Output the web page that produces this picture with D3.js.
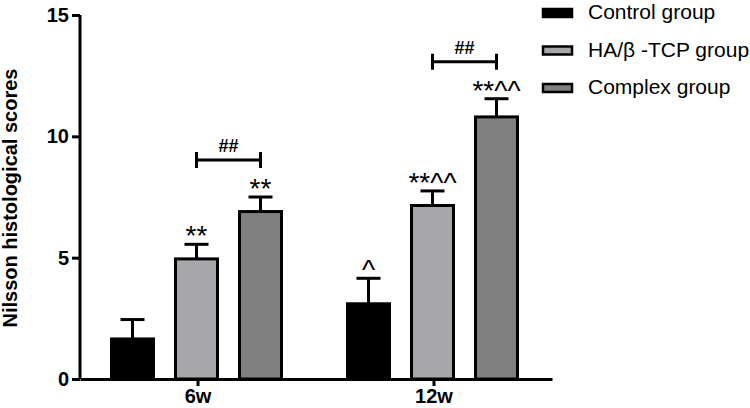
<!DOCTYPE html>
<html>
<head>
<meta charset="utf-8">
<script src="https://cdn.jsdelivr.net/npm/d3@7/dist/d3.min.js"></script>
<style>
  body { margin: 0; background: #fff; }
  text { font-family: "Liberation Sans", Arial, sans-serif; }
</style>
</head>
<body>
<script>
let groups = ["6w", "12w"];
let series = ["Control group", "HA/β -TCP group", "Complex group"];
let colors = ["#000000", "#a7a7ab", "#808080"];
let means = [[1.65, 4.95, 6.9], [3.1, 7.15, 10.8]];
let errs = [[0.8, 0.6, 0.6], [1.05, 0.6, 0.75]];
let marks = [["", "**", "**"], ["^", "**^^", "**^^"]];
let yTicks = [0, 5, 10, 15];

let w = 750, h = 408;

let svg = d3.select("body").append("svg")
  .attr("width", w)
  .attr("height", h);

let yScale = d3.scaleLinear().domain([0, 15]).range([379, 15]);
let xScale = d3.scaleBand().domain(groups).range([80, 552]);
let xSub = d3.scaleBand().domain(series).range([-85, 85]).paddingInner(0.344);

let rows = [];
groups.forEach((g, gi) => {
  series.forEach((s, si) => {
    rows.push({ g: g, s: s, si: si, v: means[gi][si], e: errs[gi][si], m: marks[gi][si] });
  });
});

let cx = d => xScale(d.g) + xScale.bandwidth() / 2 - 1.5 + xSub(d.s) + xSub.bandwidth() / 2;

// error bars (behind bars)
let eb = svg.append("g").attr("stroke", "#000").attr("stroke-width", 3);
eb.selectAll("line.v").data(rows).enter().append("line")
  .attr("x1", cx).attr("x2", cx)
  .attr("y1", d => yScale(d.v))
  .attr("y2", d => yScale(d.v + d.e));
eb.selectAll("line.c").data(rows).enter().append("line")
  .attr("x1", d => cx(d) - 12).attr("x2", d => cx(d) + 12)
  .attr("y1", d => yScale(d.v + d.e))
  .attr("y2", d => yScale(d.v + d.e));

svg.selectAll("rect.bar").data(rows).enter().append("rect")
  .attr("class", "bar")
  .attr("x", d => cx(d) - xSub.bandwidth() / 2)
  .attr("y", d => yScale(d.v))
  .attr("width", xSub.bandwidth())
  .attr("height", d => yScale(0) - yScale(d.v))
  .attr("fill", d => colors[d.si])
  .attr("stroke", "#000")
  .attr("stroke-width", 3);

svg.selectAll("text.mark").data(rows.filter(d => d.m)).enter().append("text")
  .attr("x", cx)
  .attr("y", d => yScale(d.v + d.e) + 1)
  .attr("text-anchor", "middle")
  .attr("font-size", 28)
  .text(d => d.m);

// ## brackets between HA and Complex
let br = svg.selectAll("g.br").data(groups).enter().append("g")
  .attr("stroke", "#000").attr("stroke-width", 3);
let bx1 = g => cx({ g: g, s: series[1] });
let bx2 = g => cx({ g: g, s: series[2] });
let by = (g, i) => yScale(means[i][2] + errs[i][2]) - 37;
br.append("line")
  .attr("x1", bx1).attr("x2", bx2)
  .attr("y1", by).attr("y2", by);
br.append("line")
  .attr("x1", bx1).attr("x2", bx1)
  .attr("y1", (g, i) => by(g, i) - 8).attr("y2", (g, i) => by(g, i) + 8);
br.append("line")
  .attr("x1", bx2).attr("x2", bx2)
  .attr("y1", (g, i) => by(g, i) - 8).attr("y2", (g, i) => by(g, i) + 8);
svg.selectAll("text.hash").data(groups).enter().append("text")
  .attr("x", g => (bx1(g) + bx2(g)) / 2)
  .attr("y", (g, i) => by(g, i) - 8)
  .attr("text-anchor", "middle")
  .attr("font-size", 18)
  .attr("font-weight", "bold")
  .text("##");

// axes
let yAxis = d3.axisLeft(yScale).tickValues(yTicks).tickSize(8).tickPadding(3).tickSizeOuter(0);
let yg = svg.append("g").attr("transform", "translate(80,0)").call(yAxis);
yg.selectAll("text").attr("font-size", 20).attr("font-weight", "bold")
  .attr("font-family", "Liberation Sans, Arial, sans-serif").attr("fill", "#000");
yg.selectAll("line, path").attr("stroke", "#000").attr("stroke-width", 3);
yg.select("path").attr("d", "M0," + yScale(0) + "V" + yScale(15));

let xAxis = d3.axisBottom(xScale).tickSize(7).tickPadding(3).tickSizeOuter(0);
let xg = svg.append("g").attr("transform", "translate(0,379)").call(xAxis);
xg.selectAll("text").attr("font-size", 20).attr("font-weight", "bold")
  .attr("font-family", "Liberation Sans, Arial, sans-serif").attr("fill", "#000");
xg.selectAll("line, path").attr("stroke", "#000").attr("stroke-width", 3);

svg.append("text")
  .attr("transform", "translate(17," + (yScale(7.5) + 1) + ") rotate(-90)")
  .attr("text-anchor", "middle")
  .attr("font-size", 20)
  .attr("font-weight", "bold")
  .text("Nilsson histological scores");

// legend
let lg = svg.selectAll("g.leg").data(series).enter().append("g")
  .attr("transform", (d, i) => "translate(543," + (13 + i * 37.5) + ")");
lg.append("rect")
  .attr("x", 0).attr("y", -4).attr("width", 29).attr("height", 8)
  .attr("fill", (d, i) => colors[i])
  .attr("stroke", "#000").attr("stroke-width", 2.5);
lg.append("text")
  .attr("x", 45).attr("y", 6)
  .attr("font-size", 21)
  .text(d => d);
</script>
</body>
</html>
